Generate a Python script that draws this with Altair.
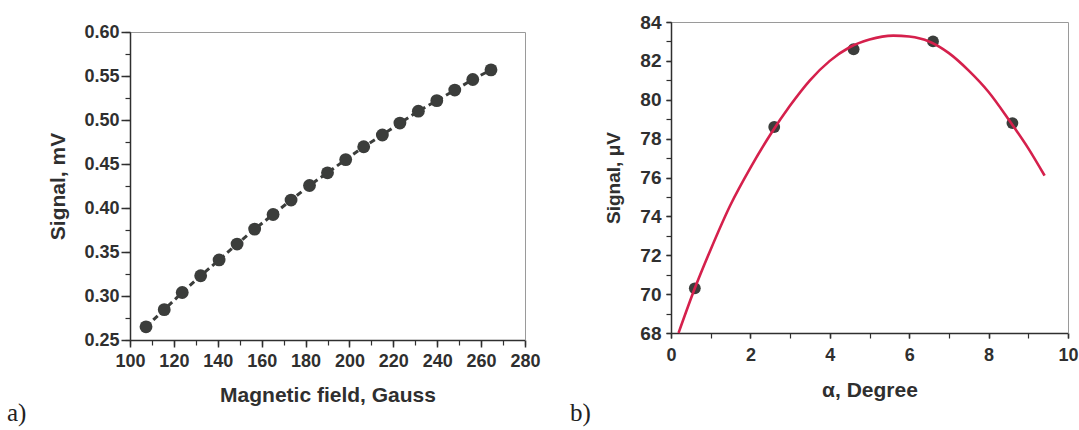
import altair as alt
import pandas as pd

# ---------------- data ----------------
# panel a) signal vs magnetic field
field_gauss = [107.3, 115.6, 123.8, 132.2, 140.6, 148.8, 156.8, 165.2, 173.4, 181.8,
               190.0, 198.3, 206.5, 215.0, 223.0, 231.4, 239.8, 248.0, 256.2, 264.5]
signal_mv = [0.265, 0.2845, 0.304, 0.323, 0.341, 0.359, 0.376, 0.3926, 0.409, 0.4256,
             0.440, 0.455, 0.4696, 0.483, 0.4965, 0.510, 0.522, 0.534, 0.546, 0.557]

# panel b) signal vs angle, measured points and fitted curve
angle_deg = [0.6, 2.6, 4.6, 6.6, 8.6]
signal_uv = [70.3, 78.6, 82.6, 83.0, 78.8]
fit_angle = [0.19, 0.6, 1.0, 1.5, 2.0, 2.5, 3.0, 3.5, 4.0, 4.5, 5.0, 5.6, 6.0,
             6.5, 7.0, 7.5, 8.0, 8.5, 9.0, 9.41]
fit_signal = [68.0, 70.3, 72.3, 74.6, 76.5, 78.2, 79.7, 81.0, 82.0, 82.7, 83.1, 83.3, 83.25,
              83.0, 82.4, 81.5, 80.4, 79.0, 77.5, 76.1]

# axis ticks
a_x_major = [100, 120, 140, 160, 180, 200, 220, 240, 260, 280]
a_x_minor = [100, 110, 120, 130, 140, 150, 160, 170, 180, 190, 200, 210, 220, 230, 240, 250, 260, 270, 280]
a_y_major = [0.25, 0.30, 0.35, 0.40, 0.45, 0.50, 0.55, 0.60]
a_y_minor = [0.25, 0.275, 0.30, 0.325, 0.35, 0.375, 0.40, 0.425, 0.45, 0.475, 0.50, 0.525, 0.55, 0.575, 0.60]
b_x_major = [0, 2, 4, 6, 8, 10]
b_x_minor = [0, 1, 2, 3, 4, 5, 6, 7, 8, 9, 10]
b_y_major = [68, 70, 72, 74, 76, 78, 80, 82, 84]
b_y_minor = [68, 69, 70, 71, 72, 73, 74, 75, 76, 77, 78, 79, 80, 81, 82, 83, 84]

df_a = pd.DataFrame({"x": field_gauss, "y": signal_mv})
df_b = pd.DataFrame({"x": angle_deg, "y": signal_uv})
df_fit = pd.DataFrame({"x": fit_angle, "y": fit_signal})

W, H = 1079, 430
FONT = "Liberation Sans"
INK = "#2f2f2f"
DOT = "#3b3d3b"
RED = "#d5204c"

# panel geometry (pixels)
A_X = [130, 525]
A_Y = [340, 32]
B_X = [671, 1068]
B_Y = [333, 22]


def scale(dom, rng):
    return alt.Scale(domain=dom, range=rng, nice=False, zero=False)


def major(orient, offset, values, fmt, title, lab, ttl, tick, tpad, lpad):
    return alt.Axis(orient=orient, offset=offset, values=values, format=fmt, title=title,
                    grid=False, labelFont=FONT, labelFontSize=lab, labelFontWeight="bold",
                    labelColor=INK, labelPadding=lpad, labelFlush=False, labelOverlap=False,
                    titleFont=FONT, titleFontSize=ttl, titleFontWeight="bold",
                    titleColor=INK, titlePadding=tpad, tickSize=tick, tickWidth=1.5,
                    tickColor=INK, domainColor=INK, domainWidth=1.5)


def minor(orient, offset, values, tick):
    return alt.Axis(orient=orient, offset=offset, values=values, labels=False, domain=False,
                    title=None, grid=False, tickSize=tick, tickWidth=1.2, tickColor=INK)


def frame(orient, offset):
    return alt.Axis(orient=orient, offset=offset, labels=False, ticks=False, title=None,
                    grid=False, domain=True, domainColor="#9a9a9a", domainWidth=1)


# ---------------- panel a ----------------
ax = [100, 280]
ay = [0.25, 0.60]
a_line = alt.Chart(df_a).mark_line(color=DOT, strokeWidth=3, strokeDash=[6, 4]).encode(
    x=alt.X("x:Q", scale=scale(ax, A_X),
            axis=major("bottom", A_Y[0] - H, a_x_major, "d", "Magnetic field, Gauss", 18, 21, 7, 14, 5)),
    y=alt.Y("y:Q", scale=scale(ay, A_Y),
            axis=major("left", -A_X[0], a_y_major, ".2f", "Signal, mV", 18, 21, 9, 15, 2)),
)
a_pts = alt.Chart(df_a).mark_circle(color=DOT, size=165, opacity=1).encode(
    x=alt.X("x:Q", scale=scale(ax, A_X), axis=minor("bottom", A_Y[0] - H, a_x_minor, 5)),
    y=alt.Y("y:Q", scale=scale(ay, A_Y), axis=minor("left", -A_X[0], a_y_minor, 5)),
)
a_frame = alt.Chart(df_a).mark_point(opacity=0).encode(
    x=alt.X("x:Q", scale=scale(ax, A_X), axis=frame("top", -A_Y[1])),
    y=alt.Y("y:Q", scale=scale(ay, A_Y), axis=frame("right", A_X[1] - W)),
)

# ---------------- panel b ----------------
bx = [0, 10]
by = [68, 84]
b_pts = alt.Chart(df_b).mark_circle(color=DOT, size=140, opacity=1).encode(
    x=alt.X("x:Q", scale=scale(bx, B_X),
            axis=major("bottom", B_Y[0] - H, b_x_major, "d", "α, Degree", 18, 21, 5, 15, 8)),
    y=alt.Y("y:Q", scale=scale(by, B_Y),
            axis=major("left", -B_X[0], b_y_major, "d", "Signal, μV", 19, 19, 5, 16, 5)),
)
b_fit = alt.Chart(df_fit).mark_line(color=RED, strokeWidth=2.6, interpolate="monotone").encode(
    x=alt.X("x:Q", scale=scale(bx, B_X), axis=minor("bottom", B_Y[0] - H, b_x_minor, 5)),
    y=alt.Y("y:Q", scale=scale(by, B_Y), axis=minor("left", -B_X[0], b_y_minor, 5)),
)
b_frame = alt.Chart(df_b).mark_point(opacity=0).encode(
    x=alt.X("x:Q", scale=scale(bx, B_X), axis=frame("top", -B_Y[1])),
    y=alt.Y("y:Q", scale=scale(by, B_Y), axis=frame("right", B_X[1] - W)),
)

# ---------------- panel letters ----------------
one = pd.DataFrame({"k": [0]})
lab_a = alt.Chart(one).mark_text(text="a)", font="Liberation Serif", fontSize=25, color="#222",
                                 align="left", baseline="alphabetic").encode(
    x=alt.value(7), y=alt.value(421))
lab_b = alt.Chart(one).mark_text(text="b)", font="Liberation Serif", fontSize=25, color="#222",
                                 align="left", baseline="alphabetic").encode(
    x=alt.value(570), y=alt.value(421))

chart = (
    alt.layer(a_line, a_pts, a_frame, b_pts, b_fit, b_frame, lab_a, lab_b)
    .resolve_scale(x="independent", y="independent")
    .resolve_axis(x="independent", y="independent")
    .properties(width=W, height=H, padding=0, autosize=alt.AutoSizeParams(type="none"),
                background="white")
    .configure_view(stroke="transparent")
)

chart.save("out.html", embed_options={"renderer": "svg", "actions": False})
